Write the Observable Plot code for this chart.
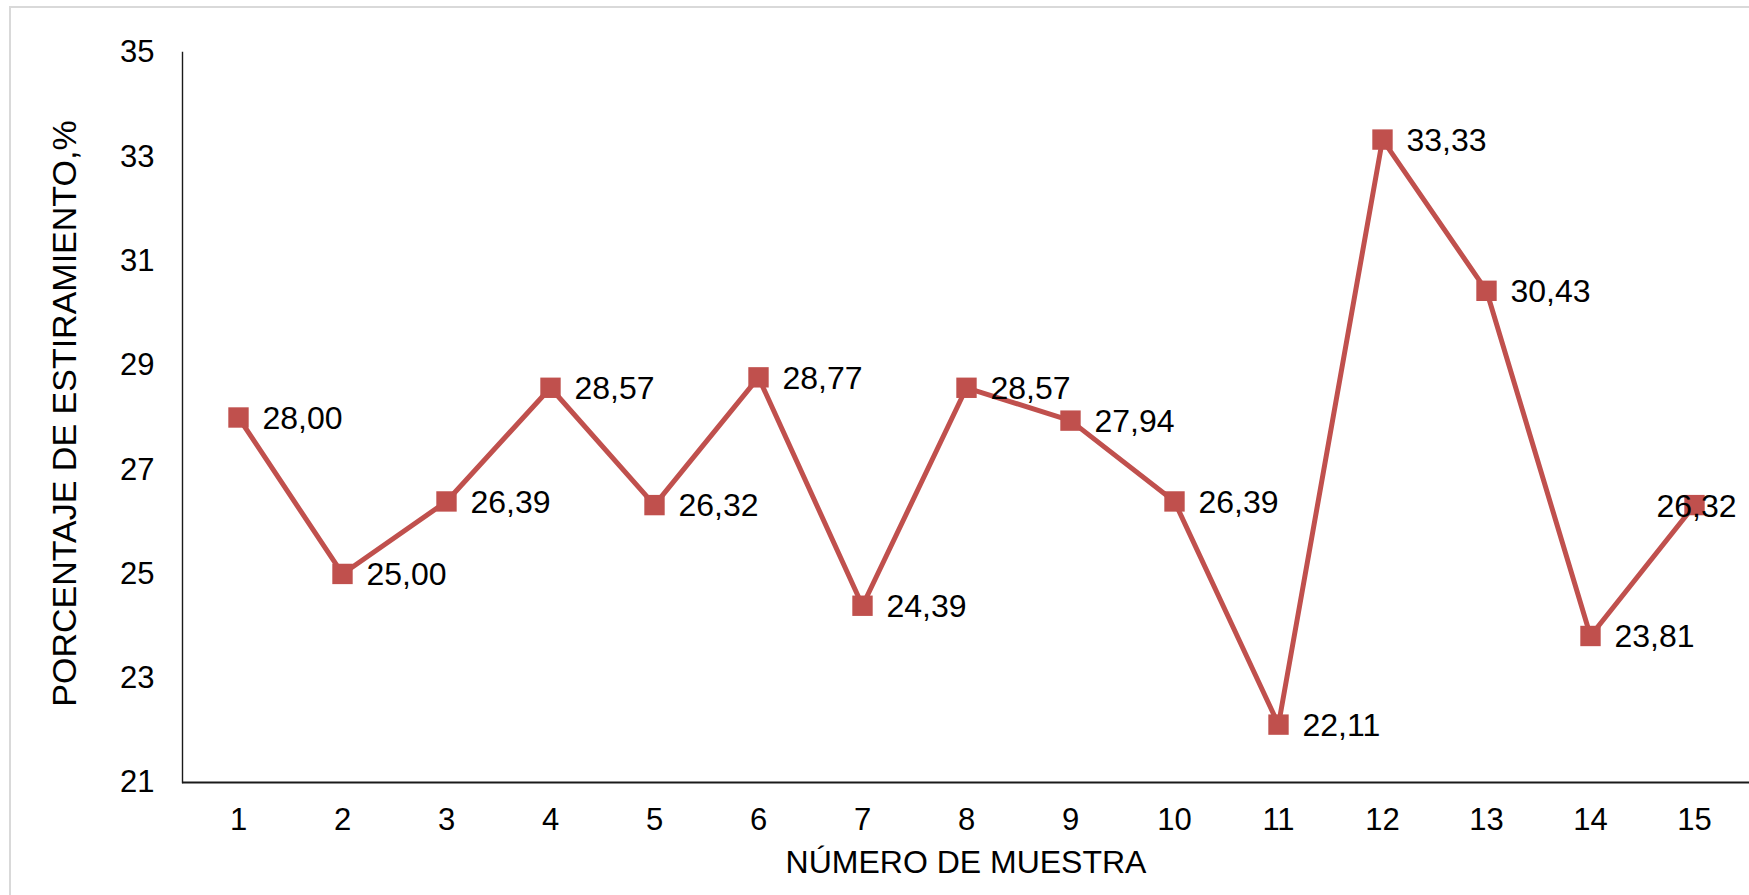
<!DOCTYPE html>
<html>
<head>
<meta charset="utf-8">
<script src="https://cdn.jsdelivr.net/npm/d3@7"></script>
<script src="https://cdn.jsdelivr.net/npm/@observablehq/plot@0.6"></script>
<style>
  html, body { margin: 0; padding: 0; background: #fff; overflow: hidden; }
  #wrap { position: relative; width: 1749px; height: 895px; }
  #border { position: absolute; left: 9px; top: 6px; width: 1760px; height: 900px;
            border-left: 2px solid #d9d9d9; border-top: 2px solid #d9d9d9; box-sizing: border-box; }
  #chart { position: absolute; left: 0; top: 0; }
</style>
</head>
<body>
<div id="wrap"><div id="border"></div><div id="chart"></div></div>
<script>
const samples = [1, 2, 3, 4, 5, 6, 7, 8, 9, 10, 11, 12, 13, 14, 15];
const values = [28.00, 25.00, 26.39, 28.57, 26.32, 28.77, 24.39, 28.57, 27.94, 26.39, 22.11, 33.33, 30.43, 23.81, 26.32];
const yTicks = [21, 23, 25, 27, 29, 31, 33, 35];
const xTitle = "NÚMERO DE MUESTRA";
const yTitle = "PORCENTAJE DE ESTIRAMIENTO,%";

const data = samples.map((s, i) => ({sample: String(s), value: values[i], i}));
const fmt = v => v.toFixed(2).replace(".", ",");
const red = "#C0504D";
const font = "Liberation Sans, Arial, sans-serif";

const chart = Plot.plot({
  width: 1749,
  height: 895,
  marginLeft: 182,
  marginRight: 0,
  marginTop: 52,
  marginBottom: 113,
  style: {fontFamily: font, fontSize: "31px", color: "#000", background: "transparent"},
  x: {type: "point", domain: samples.map(String), padding: 0.5, label: null},
  y: {domain: [21, 35], label: null},
  marks: [
    Plot.frame({anchor: "left", stroke: "#1a1a1a", strokeWidth: 1.4}),
    Plot.ruleY([21], {stroke: "#1a1a1a", strokeWidth: 2}),
    Plot.axisY({ticks: yTicks, tickSize: 0, tickPadding: 28, fontSize: 31, label: null, tickFormat: d => String(d)}),
    Plot.axisX({tickSize: 0, tickPadding: 25, fontSize: 31, label: null}),
    Plot.line(data, {x: "sample", y: "value", stroke: red, strokeWidth: 5}),
    Plot.dot(data, {x: "sample", y: "value", symbol: "square", r: 11.5, fill: red, stroke: "none"}),
    Plot.text(data.filter(d => d.i < samples.length - 1), {x: "sample", y: "value", text: d => fmt(d.value), textAnchor: "start", dx: 24, dy: 1, fontSize: 32, fill: "#000"}),
    Plot.text(data.filter(d => d.i === samples.length - 1), {x: "sample", y: "value", text: d => fmt(d.value), textAnchor: "middle", dx: 2, dy: 2, fontSize: 32, fill: "#000"}),
    Plot.text([xTitle], {frameAnchor: "bottom", text: d => d, dy: 90, fontSize: 32, fill: "#000"}),
    Plot.text([yTitle], {frameAnchor: "left", textAnchor: "middle", text: d => d, rotate: -90, dx: -117, dy: -4, fontSize: 34, fill: "#000"})
  ]
});
document.getElementById("chart").appendChild(chart);
</script>
</body>
</html>
